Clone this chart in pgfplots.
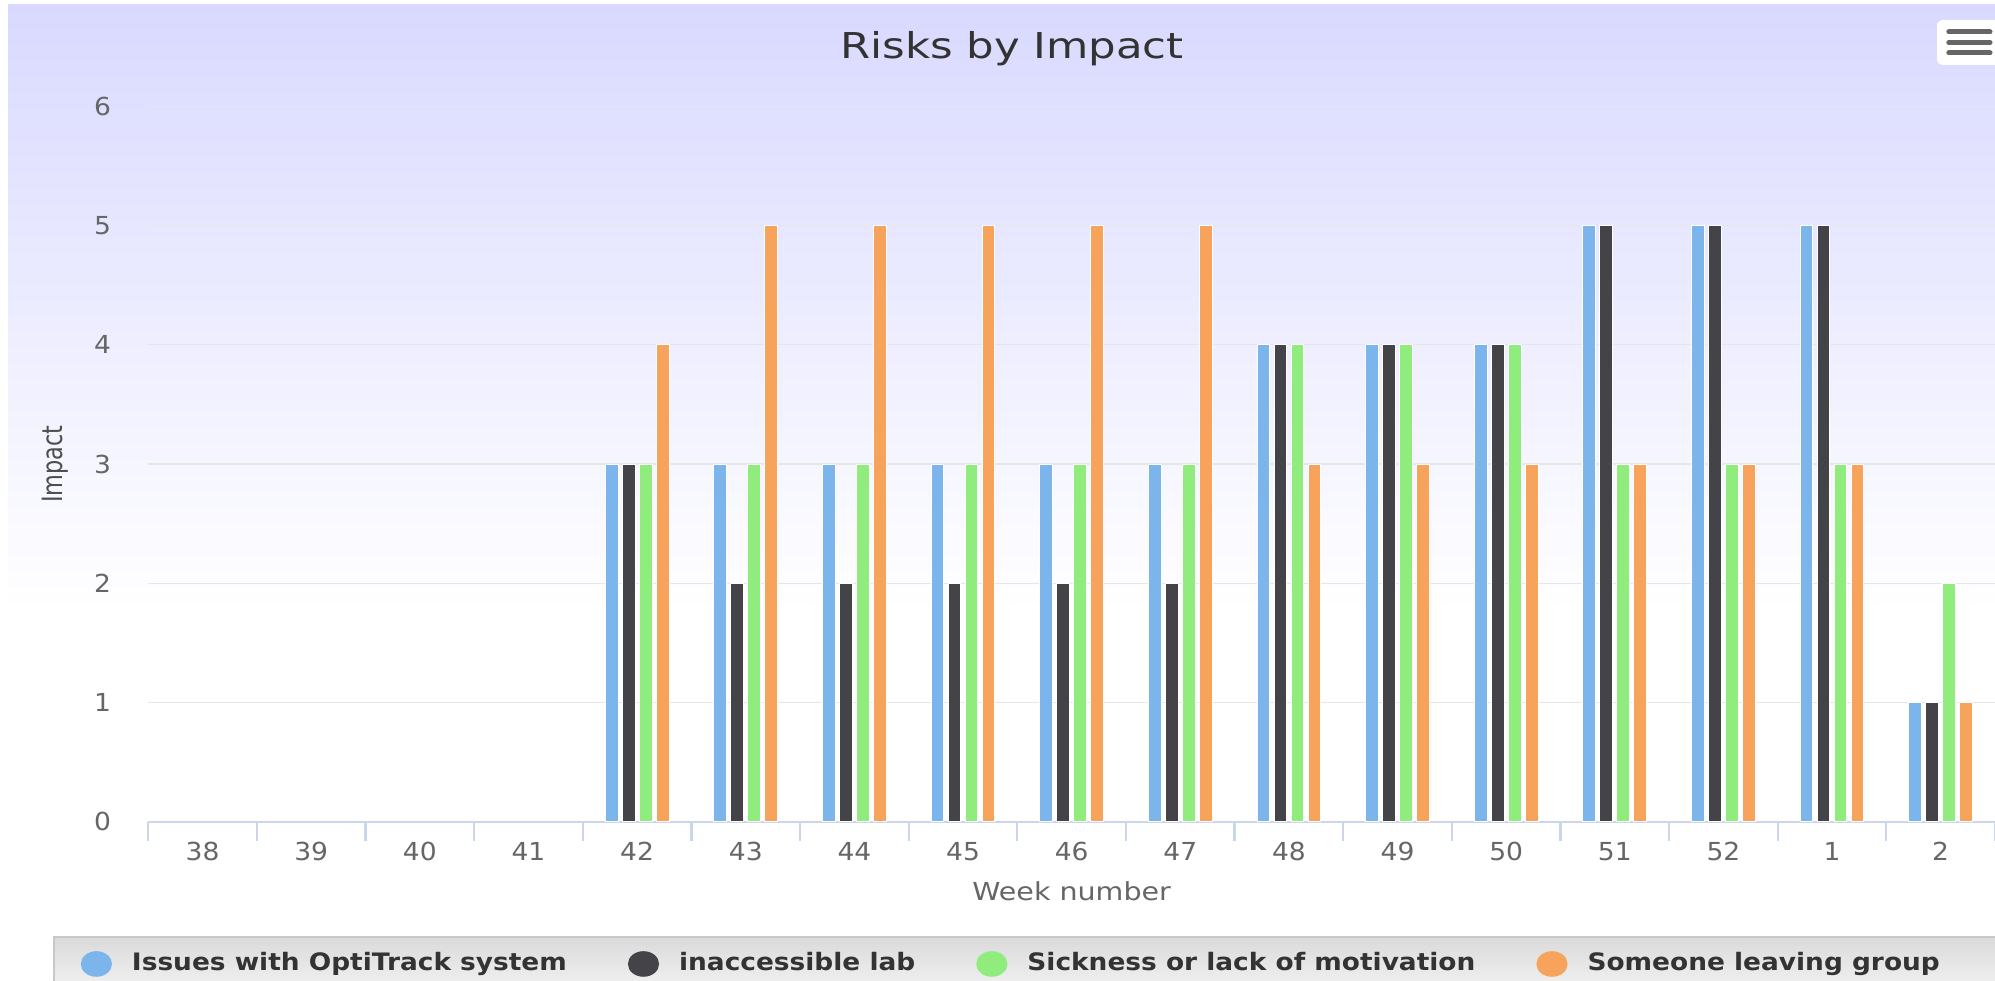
\documentclass[border=0pt]{standalone}
\usepackage{pgfplots}
\pgfplotsset{compat=1.18}
\usepackage{pgfplotstable}
\usepackage{fontspec}
\setmainfont{DejaVu Sans}
\newfontfamily\titlefont[FakeStretch=1.22]{DejaVu Sans}
\newfontfamily\tickfont[FakeStretch=1.07]{DejaVu Sans}
\newfontfamily\labfont[FakeStretch=1.15]{DejaVu Sans}
\newfontfamily\ylabfont[FakeStretch=0.8]{DejaVu Sans}
\newfontfamily\legfont[FakeStretch=1.1]{DejaVu Sans}
\definecolor{hcblue}{RGB}{124,181,236}
\definecolor{hcdark}{RGB}{67,67,72}
\definecolor{hcgreen}{RGB}{144,237,125}
\definecolor{hcorange}{RGB}{247,163,92}
\definecolor{bglav}{RGB}{217,217,255}
\definecolor{gridgray}{RGB}{230,230,230}
\definecolor{axisblue}{RGB}{204,214,235}
\definecolor{ticktext}{RGB}{102,102,102}
\definecolor{ylabtext}{RGB}{77,77,77}
\definecolor{titletext}{RGB}{51,51,51}
\definecolor{legtop}{RGB}{218,218,218}
\definecolor{legbot}{RGB}{238,238,238}
\definecolor{legborder}{RGB}{200,200,200}
\definecolor{menugray}{RGB}{102,102,102}

% x index: 0=38 1=39 2=40 3=41 (all zero), 4=42 ... 14=52, 15=1, 16=2
\pgfplotstableread{
x  a b c d
4  3 3 3 4
5  3 2 3 5
6  3 2 3 5
7  3 2 3 5
8  3 2 3 5
9  3 2 3 5
10 4 4 4 3
11 4 4 4 3
12 4 4 4 3
13 5 5 3 3
14 5 5 3 3
15 5 5 3 3
16 1 1 2 1
}\risks

\begin{document}
\begin{tikzpicture}
\useasboundingbox (0,0) rectangle (498.75pt,245.25pt);
\fill[white] (0,0) rectangle (498.75pt,245.25pt);
\shade[top color=bglav, bottom color=white] (2pt,92.5pt) rectangle (498.75pt,244pt);
% legend box
\shade[top color=legtop, bottom color=legbot] (13.5pt,0pt) rectangle (499pt,11pt);
\draw[legborder, line width=0.3pt] (13.5pt,0pt) -- (13.5pt,11pt) -- (499pt,11pt);
% menu icon
\fill[white, rounded corners=1.5pt] (484.25pt,229pt) rectangle (501pt,240.25pt);
\draw[menugray, line width=1.25pt, line cap=round] (487.2pt,237.25pt) -- (497.5pt,237.25pt);
\draw[menugray, line width=1.25pt, line cap=round] (487.2pt,234.6pt) -- (497.5pt,234.6pt);
\draw[menugray, line width=1.25pt, line cap=round] (487.2pt,232pt) -- (497.5pt,232pt);
% title
\node[anchor=base, inner sep=0pt, text=titletext, font=\titlefont\fontsize{8.9}{10}\selectfont] at (253pt,230.5pt) {Risks by Impact};
\begin{axis}[
  at={(37.075pt,39.825pt)}, anchor=south west,
  scale only axis, width=461.675pt, height=178.8pt,
  xmin=-0.5, xmax=16.5, ymin=0, ymax=6,
  ybar=1.05pt, bar width=3.2pt,
  xtick={0,...,16},
  xticklabels={38,39,40,41,42,43,44,45,46,47,48,49,50,51,52,1,2},
  minor xtick={-0.5,0.5,...,16.5},
  ytick={0,...,6},
  axis x line*=bottom, axis y line*=left,
  x axis line style={draw=axisblue, line width=0.5pt, -},
  y axis line style={draw=none},
  major tick length=0pt,
  minor tick length=4.75pt,
  xtick align=outside,
  minor x tick style={draw=axisblue, line width=0.55pt},
  ymajorgrids,
  major grid style={draw=gridgray, line width=0.3pt},
  xticklabel style={font=\tickfont\fontsize{6.2}{7}\selectfont, text=ticktext, anchor=north, inner sep=0pt, yshift=-5pt},
  yticklabel style={font=\tickfont\fontsize{6.2}{7}\selectfont, text=ticktext, anchor=east, inner sep=0pt, xshift=-9.1pt},
  /pgf/number format/assume math mode=true,
  xlabel={Week number}, ylabel={Impact},
  every axis x label/.style={at={(axis description cs:0.5,0)}, anchor=base, yshift=-19.8pt, font=\labfont\fontsize{6.2}{7}\selectfont, text=ticktext},
  every axis y label/.style={at={(axis description cs:-0.0505,0.5)}, rotate=90, anchor=center, font=\ylabfont\fontsize{7}{8}\selectfont, text=ylabtext},
  legend columns=4,
  legend cell align=left,
  legend style={at={(-0.03699,-0.19896)}, anchor=west, draw=none, fill=none, inner sep=0pt,
    font=\legfont\bfseries\fontsize{6}{7}\selectfont, text=titletext,
    /tikz/every odd column/.style={column sep=5pt},
    /tikz/every even column/.style={column sep=15.25pt},
    nodes={inner sep=0pt}},
  legend image code/.code={\fill[#1, draw=none] (3.9pt,0pt) ellipse [x radius=3.9pt, y radius=3.2pt];},
]
\addplot[fill=hcblue, draw=white, line width=0.25pt] table[x=x, y=a]{\risks};
\addlegendentry{Issues with OptiTrack system}
\addplot[fill=hcdark, draw=white, line width=0.25pt] table[x=x, y=b]{\risks};
\addlegendentry{inaccessible lab}
\addplot[fill=hcgreen, draw=white, line width=0.25pt] table[x=x, y=c]{\risks};
\addlegendentry{Sickness or lack of motivation}
\addplot[fill=hcorange, draw=white, line width=0.25pt] table[x=x, y=d]{\risks};
\addlegendentry{Someone leaving group}
\end{axis}
\end{tikzpicture}
\end{document}
